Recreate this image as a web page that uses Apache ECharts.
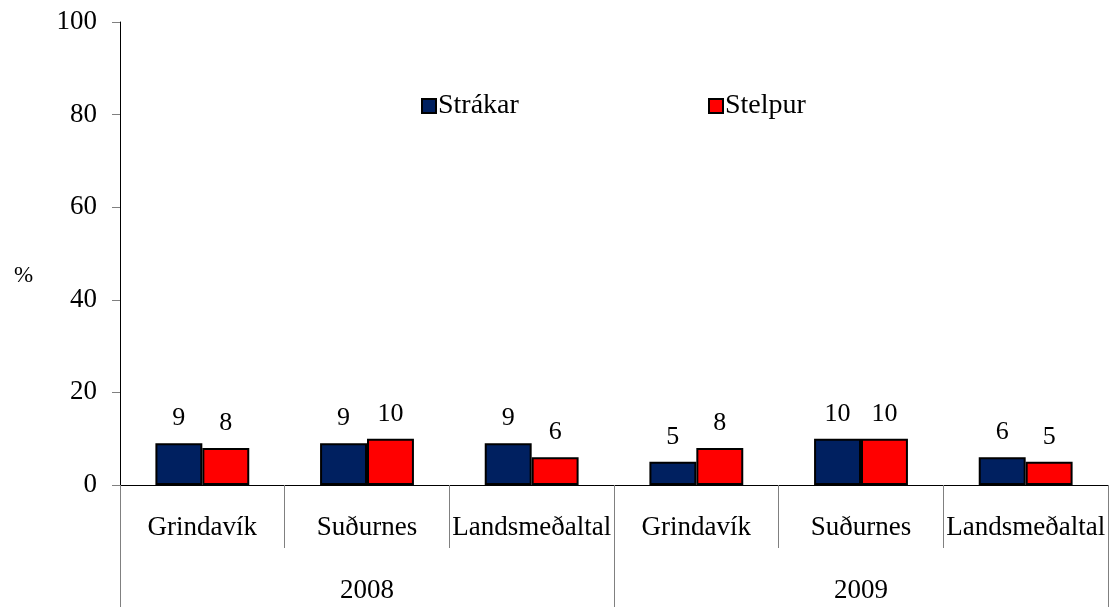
<!DOCTYPE html>
<html>
<head>
<meta charset="utf-8">
<script src="https://cdn.jsdelivr.net/npm/echarts@6/dist/echarts.min.js"></script>
<style>
  html, body { margin: 0; padding: 0; background: #fff; }
  #chart { width: 1113px; height: 607px; }
</style>
</head>
<body>
<div id="chart"></div>
<script>
// Places compared, repeated for each year
const places = ['Grindavík', 'Suðurnes', 'Landsmeðaltal', 'Grindavík', 'Suðurnes', 'Landsmeðaltal'];
const years = ['2008', '2009'];
const seriesNames = ['Strákar', 'Stelpur'];
// Percentages, in the order of `places`
const boys = [9, 9, 9, 5, 10, 6];
const girls = [8, 10, 6, 8, 10, 5];
const yTicks = [0, 20, 40, 60, 80, 100];
const yUnit = '%';

const FONT = '"Liberation Serif", "Times New Roman", serif';
const TXT = '#000';

const chart = echarts.init(document.getElementById('chart'), null, { renderer: 'canvas' });

function barSeries(name, data, color) {
  return {
    name: name,
    type: 'bar',
    xAxisIndex: 0,
    yAxisIndex: 0,
    data: data,
    barGap: '0%',
    barCategoryGap: '43%',
    itemStyle: { color: color, borderColor: '#000', borderWidth: 2 },
    label: {
      show: true,
      position: 'top',
      distance: 12,
      color: TXT,
      fontFamily: FONT,
      fontSize: 26
    }
  };
}

function legendFor(name, left) {
  return {
    data: [name],
    left: left, top: 87,
    icon: 'rect', itemWidth: 14, itemHeight: 14, itemGap: 4,
    itemStyle: { borderColor: '#000', borderWidth: 2 },
    textStyle: { fontFamily: FONT, fontSize: 28, color: TXT, padding: [0, 0, 0, -3] }
  };
}

chart.setOption({
  animation: false,
  backgroundColor: '#fff',
  grid: { left: 120, right: 5, top: 22, bottom: 122, containLabel: false },
  legend: [legendFor(seriesNames[0], 416), legendFor(seriesNames[1], 703)],
  graphic: [
    {
      type: 'text',
      left: 14, top: 264,
      style: { text: yUnit, fill: TXT, font: '23px ' + FONT }
    }
  ],
  xAxis: [
    {
      type: 'category',
      data: places,
      position: 'bottom',
      boundaryGap: true,
      axisLine: { show: true, lineStyle: { color: '#000', width: 1 } },
      axisTick: { show: true, interval: 0, length: 63, lineStyle: { color: '#808080', width: 1 } },
      axisLabel: {
        interval: 0, margin: 29,
        color: TXT, fontFamily: FONT, fontSize: 27
      },
      splitLine: { show: false }
    },
    {
      type: 'category',
      data: years,
      position: 'bottom',
      boundaryGap: true,
      axisLine: { show: false },
      axisTick: { show: true, interval: 0, length: 122, lineStyle: { color: '#808080', width: 1 } },
      axisLabel: {
        interval: 0, margin: 92,
        color: TXT, fontFamily: FONT, fontSize: 27
      },
      splitLine: { show: false }
    }
  ],
  yAxis: {
    type: 'value',
    min: 0, max: 100, interval: 20,
    axisLine: { show: true, lineStyle: { color: '#000', width: 1 } },
    axisTick: { show: true, inside: false, length: 8, lineStyle: { color: '#808080' } },
    axisLabel: {
      margin: 23, color: TXT, fontFamily: FONT, fontSize: 27,
      customValues: yTicks
    },
    splitLine: { show: false }
  },
  series: [
    barSeries(seriesNames[0], boys, '#002060'),
    barSeries(seriesNames[1], girls, '#ff0000')
  ]
});
</script>
</body>
</html>
